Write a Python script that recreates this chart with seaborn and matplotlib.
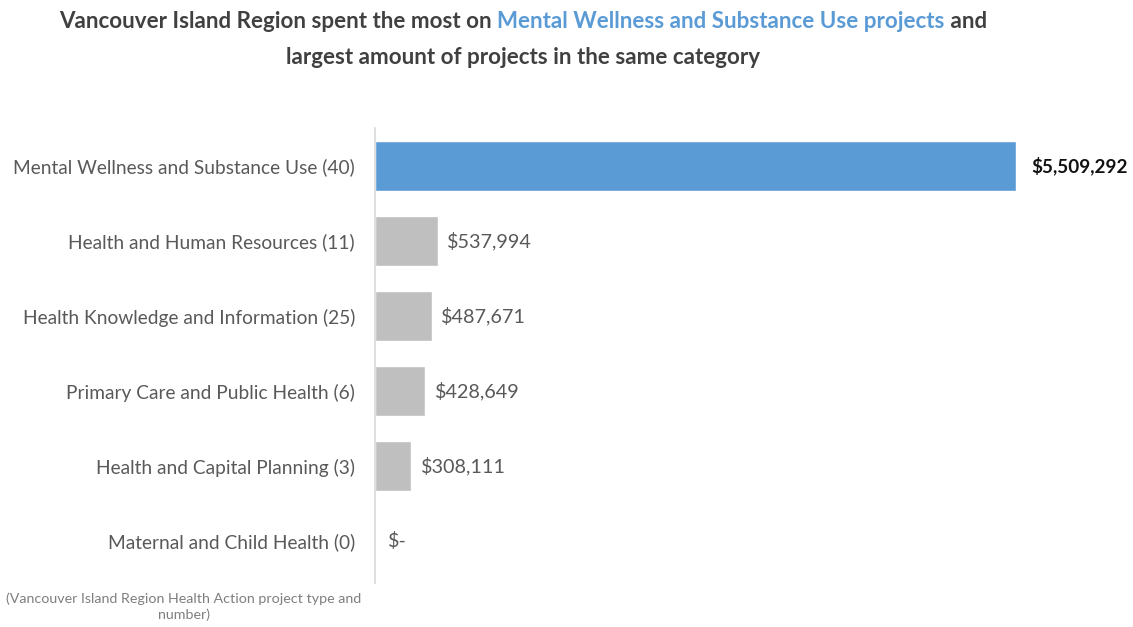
import matplotlib
matplotlib.use("Agg")
import matplotlib.pyplot as plt
import seaborn as sns
import pandas as pd

categories = [
    "Mental Wellness and Substance Use",
    "Health and Human Resources",
    "Health Knowledge and Information",
    "Primary Care and Public Health",
    "Health and Capital Planning",
    "Maternal and Child Health",
]
project_counts = [40, 11, 25, 6, 3, 0]
spending = [5509292, 537994, 487671, 428649, 308111, 0]

sns.set_theme(style="white")
plt.rcParams["font.family"] = ["Lato", "DejaVu Sans"]

labels = [f"{c} ({n})" for c, n in zip(categories, project_counts)]
df = pd.DataFrame({"label": labels, "spend": spending})
BLUE = "#5B9BD5"
GRAY = "#BFBFBF"
palette = [BLUE] + [GRAY] * (len(labels) - 1)

W, H = 1133, 627
fig = plt.figure(figsize=(W / 100, H / 100), dpi=100)
ax = fig.add_axes([375 / W, 1 - 583 / H, (1073 - 375) / W, (583 - 128) / H])

sns.barplot(data=df, y="label", x="spend", hue="label", palette=palette,
            orient="h", width=0.667, legend=False, ax=ax, saturation=1)

ax.set_xlim(0, 6000000)
ax.set_ylim(5.56, -0.507)
ax.set_xlabel("")
ax.set_ylabel("")
ax.set_xticks([])
for s in ["top", "right", "bottom"]:
    ax.spines[s].set_visible(False)
ax.spines["left"].set_color("#D9D9D9")
ax.spines["left"].set_linewidth(1.2)
ax.tick_params(axis="y", length=0, pad=14.4, labelsize=13.8, labelcolor="#595959")

for i, v in enumerate(spending):
    txt = f"${v:,}" if v > 0 else "$-"
    if i == 0:
        ax.annotate(txt, (v, i), xytext=(11, 0), textcoords="offset points",
                    va="center", ha="left", fontsize=13.6, fontweight="bold", color="#111111")
    else:
        ax.annotate(txt, (v, i), xytext=(7 if v > 0 else 9, 0), textcoords="offset points",
                    va="center", ha="left", fontsize=14.2, color="#595959")

# Title with coloured segment
parts = [("Vancouver Island Region spent the most on ", "#404040"),
         ("Mental Wellness and Substance Use projects", BLUE),
         (" and", "#404040")]
fig.canvas.draw()
renderer = fig.canvas.get_renderer()
texts = []
for s, c in parts:
    t = fig.text(0, 1 - 22 / H, s, color=c, fontsize=16.1, fontweight="bold",
                 ha="left", va="center")
    texts.append(t)
widths = [t.get_window_extent(renderer).width for t in texts]
total = sum(widths)
x = 523 - total / 2
for t, w in zip(texts, widths):
    t.set_x(x / W)
    x += w
fig.text(523 / W, 1 - 57 / H, "largest amount of projects in the same category",
         color="#404040", fontsize=16.1, fontweight="bold", ha="center", va="center")

fig.text(184 / W, 1 - 607 / H,
         "(Vancouver Island Region Health Action project type and\nnumber)",
         color="#7F7F7F", fontsize=10.3, ha="center", va="center", linespacing=1.3)

fig.savefig("out.png", dpi=100)
